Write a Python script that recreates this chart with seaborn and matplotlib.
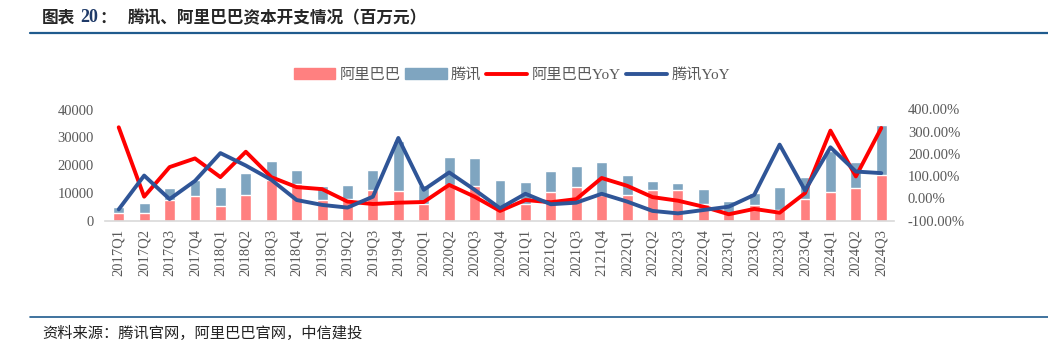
import matplotlib
matplotlib.use("Agg")
import matplotlib.pyplot as plt
import matplotlib.ticker as mticker
from matplotlib.lines import Line2D
from matplotlib.patches import Patch
import numpy as np
import pandas as pd
import seaborn as sns

quarters = ["2017Q1", "2017Q2", "2017Q3", "2017Q4", "2018Q1", "2018Q2", "2018Q3", "2018Q4",
            "2019Q1", "2019Q2", "2019Q3", "2019Q4", "2020Q1", "2020Q2", "2020Q3", "2020Q4",
            "2021Q1", "2021Q2", "2021Q3", "2121Q4", "2022Q1", "2022Q2", "2022Q3", "2022Q4",
            "2023Q1", "2023Q2", "2023Q3", "2023Q4", "2024Q1", "2024Q2", "2024Q3"]
# capex, RMB mn
alibaba = [2600, 2900, 7500, 8800, 5300, 9100, 14700, 13300,
           7500, 7800, 11100, 10800, 6000, 12700, 12600, 4700,
           5900, 10500, 12300, 9400, 9200, 10900, 10900, 5900,
           2600, 5800, 3900, 7800, 10500, 11600, 16500]
tencent = [2300, 3400, 4200, 5800, 6800, 7900, 6900, 5000,
           5000, 4900, 7300, 18000, 6800, 10300, 9800, 9800,
           8000, 7400, 7500, 11700, 7100, 3400, 2500, 5600,
           4400, 4200, 8200, 8000, 14500, 9400, 17800]
# YoY, %
alibaba_yoy = [320, 8, 141, 180, 96, 210, 96, 51, 42, -14, -25, -19, -16, 61, 8, -56,
               -7, -17, -3, 92, 57, 6, -10, -37, -71, -47, -64, 24, 305, 99, 317]
tencent_yoy = [-49, 103, -3, 79, 204, 148, 84, -7, -29, -41, 8, 272, 39, 117, 39, -44,
               21, -26, -19, 21, -14, -56, -67, -52, -37, 16, 242, 36, 230, 121, 114]

df = pd.DataFrame({"quarter": quarters, "ali": alibaba, "tx": tencent,
                   "ali_yoy": np.array(alibaba_yoy) / 100, "tx_yoy": np.array(tencent_yoy) / 100})
df["total"] = df["ali"] + df["tx"]
df["pos"] = np.arange(len(df))

sns.set_theme(style="white")
plt.rcParams["font.family"] = ["Noto Sans CJK SC", "DejaVu Sans"]

pink = "#ff8080"
steel = "#7fa5c0"
red = "#ff0000"
navy = "#2f5597"
grey = "#595959"
serif = ["Liberation Serif", "DejaVu Serif"]

W, H = 1048, 356
fig = plt.figure(figsize=(W / 100, H / 100), dpi=100)
ax = fig.add_axes([105 / W, 1 - 220.7 / H, (894 - 105) / W, (220.7 - 109.5) / H])

# stacked bars: full height in blue, alibaba part drawn over it
sns.barplot(data=df, x="quarter", y="total", color=steel, width=0.43, saturation=1, ax=ax)
sns.barplot(data=df, x="quarter", y="ali", color=pink, width=0.43, saturation=1, ax=ax)
ax.set_ylim(0, 40000)
ax.set_xlim(-0.54, 30.5)
ax.set_yticks([0, 10000, 20000, 30000, 40000])
ax.set_xlabel("")
ax.set_ylabel("")
for s in ["top", "left", "right"]:
    ax.spines[s].set_visible(False)
ax.spines["bottom"].set_color("#d9d9d9")
ax.spines["bottom"].set_linewidth(1.2)
ax.tick_params(axis="x", length=0, pad=6, labelrotation=90)
ax.tick_params(axis="y", length=0, pad=8)
ax.xaxis.set_minor_locator(mticker.FixedLocator(np.arange(-0.5, 31, 1)))
ax.tick_params(axis="x", which="minor", direction="in", length=5, color="#d9d9d9", width=1)
for lab in ax.get_xticklabels() + ax.get_yticklabels():
    lab.set_fontfamily(serif)
    lab.set_fontsize(10.5)
    lab.set_color(grey)

ax2 = ax.twinx()
sns.lineplot(data=df, x="pos", y="ali_yoy", color=red, linewidth=2.8, ax=ax2, sort=False)
sns.lineplot(data=df, x="pos", y="tx_yoy", color=navy, linewidth=2.8, ax=ax2, sort=False)
ax2.set_ylim(-1, 4)
ax2.set_xlim(-0.54, 30.5)
ax2.set_yticks([-1, 0, 1, 2, 3, 4])
ax2.yaxis.set_major_formatter(mticker.FuncFormatter(lambda v, p: f"{v * 100:.2f}%"))
ax2.set_xlabel("")
ax2.set_ylabel("")
for s in ax2.spines.values():
    s.set_visible(False)
ax2.tick_params(axis="y", length=0, pad=10)
for lab in ax2.get_yticklabels():
    lab.set_fontfamily(serif)
    lab.set_fontsize(10.5)
    lab.set_color(grey)

handles = [Patch(color=pink), Patch(color=steel),
           Line2D([], [], color=red, linewidth=2.8), Line2D([], [], color=navy, linewidth=2.8)]
labels = ["阿里巴巴", "腾讯", "阿里巴巴YoY", "腾讯YoY"]
leg = fig.legend(handles, labels, ncol=4, loc="center", bbox_to_anchor=(512 / W, 1 - 75 / H),
                 frameon=False, fontsize=11, handlelength=2.7, handleheight=0.75,
                 columnspacing=0.3, handletextpad=0.3)
for t in leg.get_texts():
    t.set_color(grey)
    t.set_fontfamily(["Liberation Serif", "Noto Sans CJK SC"])

# header and footer
fig.text(42 / W, 1 - 18 / H, "图表", fontsize=12, fontweight="heavy", va="center", ha="left")
fig.text(80 / W, 1 - 18 / H, "20", fontsize=13, fontweight="bold", va="center", ha="left",
         family=serif, color="#1f3a68")
fig.text(99 / W, 1 - 18 / H, "：", fontsize=12, fontweight="heavy", va="center", ha="left")
fig.text(128 / W, 1 - 18 / H, "腾讯、阿里巴巴资本开支情况（百万元）", fontsize=12,
         fontweight="heavy", va="center", ha="left")
fig.add_artist(Line2D([30 / W, 1], [1 - 33 / H, 1 - 33 / H], color="#1f5b8e", linewidth=1.6))
fig.add_artist(Line2D([30 / W, 1], [1 - 317 / H, 1 - 317 / H], color="#1f5b8e", linewidth=1.2))
fig.text(42 / W, 1 - 333 / H, "资料来源：腾讯官网，阿里巴巴官网，中信建投", fontsize=11,
         style="italic", va="center", ha="left", color="#222222")

fig.savefig("out.png", dpi=100)
